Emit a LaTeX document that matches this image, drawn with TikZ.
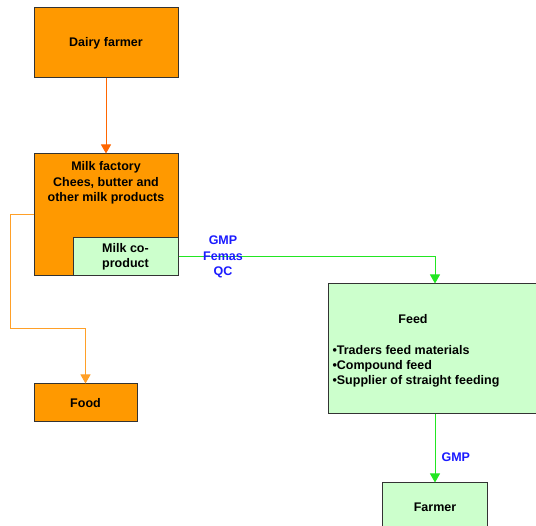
\documentclass[tikz,border=0pt]{standalone}
\usepackage{fontspec}
\setmainfont{Liberation Sans}
\usetikzlibrary{arrows.meta}
\definecolor{dairyorange}{HTML}{FF9900}
\definecolor{dairyline}{HTML}{FF6600}
\definecolor{foodline}{HTML}{FFA028}
\definecolor{feedgreen}{HTML}{CCFFCC}
\definecolor{feedline}{HTML}{22E622}
\definecolor{checkblue}{HTML}{1A1AFF}
\begin{document}
\begin{tikzpicture}[x=1pt, y=-1pt, font=\fontsize{12.5}{15.5}\selectfont\bfseries,
  orangebox/.style={draw=black!80, line width=1pt, fill=dairyorange, inner sep=0pt},
  greenbox/.style={draw=black!80, line width=1pt, fill=feedgreen, inner sep=0pt},
  qlabel/.style={text=checkblue},
  tip/.style={line width=1pt, -{Triangle[width=10pt,length=9pt]}}]
  \clip (0,0) rectangle (536,526);

  \node[orangebox, minimum width=144pt, minimum height=70pt] (dairy) at (106,43) {Dairy farmer};
  \node[orangebox, minimum width=144pt, minimum height=122pt] (factory) at (106,215) {};
  \node[align=center] (factorytext) at (106,183) {Milk factory\\Chees, butter and\\other milk products};
  \node[greenbox, minimum width=105pt, minimum height=38pt, align=center] (coprod) at (125.5,257) {Milk co-\\product};
  \node[orangebox, minimum width=103pt, minimum height=38pt] (food) at (85.5,403) {Food};

  \node[greenbox, minimum width=214pt, minimum height=130pt] (feed) at (435,349) {};
  \node (feedtitle) at (413,319) {Feed};
  \node[align=left, anchor=west, font=\fontsize{12.5}{15}\selectfont\bfseries] (feedlist) at (329,366)
    {•Traders feed materials\\•Compound feed\\•Supplier of straight feeding};
  \node[greenbox, minimum width=105pt, minimum height=48pt] (farmer) at (435,507) {Farmer};

  \coordinate (bendfood) at (10,329);
  \draw[tip, color=dairyline] (dairy) -- (factory);
  \draw[tip, color=foodline] (factory.west) -| (bendfood) -| (food.north);
  \draw[tip, color=feedline] (coprod.east) -| (feed.north);
  \draw[tip, color=feedline] (feed) -- (farmer);

  \node[qlabel, align=center] (checks) at (223,257) {GMP\\Femas\\QC};
  \node[qlabel, anchor=west] (gmpfeed) at (438,457) {GMP};
\end{tikzpicture}
\end{document}
